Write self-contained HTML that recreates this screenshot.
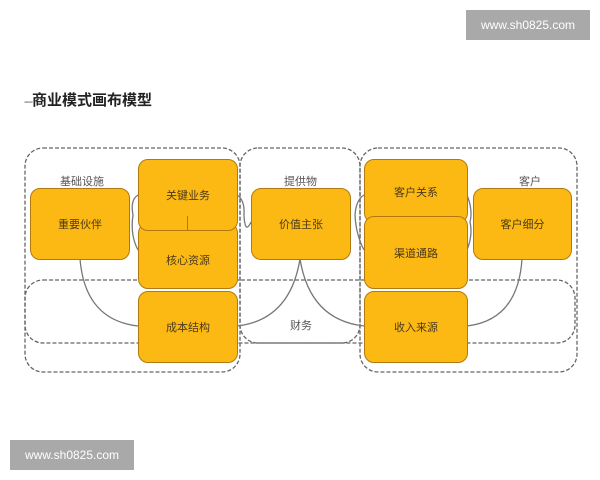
<!DOCTYPE html>
<html><head><meta charset="utf-8"><style>
body{margin:0;width:600px;height:480px;background:#fff;position:relative;overflow:hidden;font-family:"Liberation Sans","Noto Sans CJK SC",sans-serif}
.b{position:absolute;background:#fdb913;border:1.5px solid #b07a10;border-radius:10px;box-sizing:border-box;display:flex;align-items:center;justify-content:center;font-size:11px;color:#4a3a1a}
.l{position:absolute;font-size:11px;color:#555}
.wm{position:absolute;background:#a9a9a9;color:#fff;font-size:12px;display:flex;align-items:center;justify-content:center}
</style></head><body>
<div class="wm" style="left:466px;top:10px;width:124px;height:30px">www.sh0825.com</div>
<div class="wm" style="left:10px;top:440px;width:124px;height:30px">www.sh0825.com</div>
<div style="position:absolute;left:24px;top:89px;font-size:15px;font-weight:bold;color:#222"><span style="font-weight:normal;color:#555;font-size:11px;letter-spacing:-1px">---</span>商业模式画布模型</div>
<svg width="600" height="480" style="position:absolute;left:0;top:0">
<g fill="none" stroke="#666" stroke-width="1.3" stroke-dasharray="4,2">
<rect x="25" y="148" width="215" height="224" rx="18"/>
<rect x="240" y="148" width="120" height="195" rx="18"/>
<rect x="360" y="148" width="217" height="224" rx="18"/>
<rect x="25" y="280" width="550" height="63" rx="18"/>
</g>
<g fill="none" stroke="#777" stroke-width="1.3">
<path d="M80 259 Q85 320 138 326"/>
<path d="M300 259 Q290 320 237 326"/>
<path d="M300 259 Q310 320 364 326"/>
<path d="M522 259 Q518 320 467 326"/>
<path d="M138 195 Q130 200 133 215 Q130 235 138 250"/>
<path d="M237 195 Q245 200 244 215 Q245 235 251 222"/>
<path d="M364 195 Q356 200 355 215 Q356 235 364 250"/>
<path d="M467 195 Q473 210 470 222 Q473 235 467 250"/>
</g>
</svg>
<div class="b" style="left:30px;top:188px;width:100px;height:72px">重要伙伴</div>
<div class="b" style="left:138px;top:223px;width:100px;height:66px;padding-top:8px">核心资源</div>
<div class="b" style="left:138px;top:159px;width:100px;height:72px">关键业务</div>
<div style="position:absolute;left:187px;top:216px;width:1px;height:14px;background:#b07a10"></div>
<div class="b" style="left:138px;top:291px;width:100px;height:72px">成本结构</div>
<div class="b" style="left:251px;top:188px;width:100px;height:72px">价值主张</div>
<div class="b" style="left:364px;top:159px;width:104px;height:64px;align-items:flex-start;padding-top:24px">客户关系</div>
<div class="b" style="left:364px;top:216px;width:104px;height:73px">渠道通路</div>
<div class="b" style="left:364px;top:291px;width:104px;height:72px">收入来源</div>
<div class="b" style="left:473px;top:188px;width:99px;height:72px">客户细分</div>
<div class="l" style="left:60px;top:173px">基础设施</div>
<div class="l" style="left:284px;top:173px">提供物</div>
<div class="l" style="left:519px;top:173px">客户</div>
<div class="l" style="left:290px;top:317px">财务</div>
</body></html>
